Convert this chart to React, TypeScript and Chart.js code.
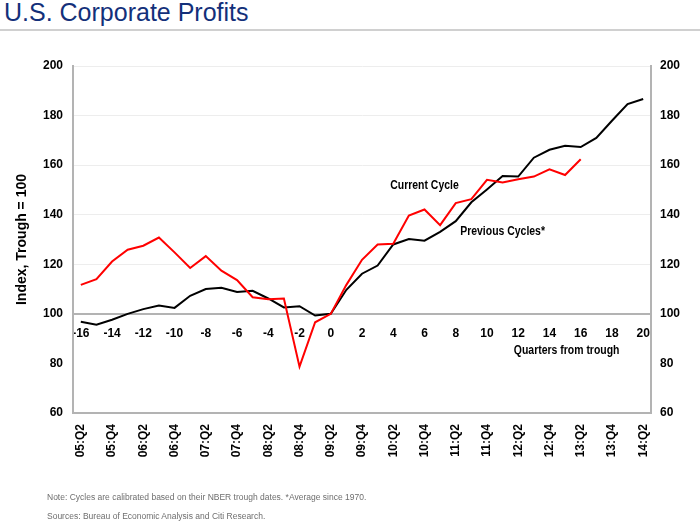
import React, { useEffect, useRef } from "react";
import { Chart, registerables } from "chart.js";

Chart.register(...registerables);

const quarterTicks = [-16, -14, -12, -10, -8, -6, -4, -2, 0, 2, 4, 6, 8, 10, 12, 14, 16, 18, 20];
const dateLabels = [
  "05:Q2", "05:Q4", "06:Q2", "06:Q4", "07:Q2", "07:Q4", "08:Q2", "08:Q4", "09:Q2", "09:Q4",
  "10:Q2", "10:Q4", "11:Q2", "11:Q4", "12:Q2", "12:Q4", "13:Q2", "13:Q4", "14:Q2",
];
const yTicks = [60, 80, 100, 120, 140, 160, 180, 200];

const previousQuarters = [
  -16, -15, -14, -13, -12, -11, -10, -9, -8, -7, -6, -5, -4, -3, -2, -1, 0,
  1, 2, 3, 4, 5, 6, 7, 8, 9, 10, 11, 12, 13, 14, 15, 16, 17, 18, 19, 20,
];
const previousCycles = [
  96.8, 95.6, 97.6, 100, 101.9, 103.4, 102.4, 107.3, 110, 110.5, 108.8, 109.3, 106.2, 102.6, 103.1, 99.3, 100,
  109.7, 116.2, 119.5, 128, 130.2, 129.5, 133.1, 137.4, 145, 150.2, 155.6, 155.4, 163, 166.2, 167.8, 167.3, 171, 177.9, 184.6, 186.7,
];
const currentQuarters = [
  -16, -15, -14, -13, -12, -11, -10, -9, -8, -7, -6, -5, -4, -3, -2, -1, 0,
  1, 2, 3, 4, 5, 6, 7, 8, 9, 10, 11, 12, 13, 14, 15, 16,
];
const currentCycle = [
  111.7, 114.0, 121.1, 125.9, 127.5, 130.8, 124.8, 118.5, 123.3, 117.4, 113.6, 106.7, 105.9, 106.2, 78.7, 96.6, 100,
  111.7, 121.8, 128, 128.3, 139.7, 142.1, 135.8, 144.7, 146.3, 154.1, 153, 154.3, 155.4, 158.3, 156, 162.4,
];

const textLabels = [
  { text: "Current Cycle", q: 6, v: 151.7 },
  { text: "Previous Cycles*", q: 11, v: 133.1 },
  { text: "Quarters from trough", q: 15.1, v: 85.2 },
];

const FONT = "'Liberation Sans', Arial, sans-serif";
const AXIS_GRAY = "#b3b3b3";

export default function App() {
  const ref = useRef<HTMLCanvasElement | null>(null);

  useEffect(() => {
    const canvas = ref.current;
    if (!canvas) return;
    const tickFont = { family: FONT, size: 12, weight: "bold" as const };

    const labelPlugin = {
      id: "textLabels",
      afterDatasetsDraw(chart: any) {
        const { ctx, scales } = chart;
        textLabels.forEach((l) => {
          ctx.save();
          ctx.font = `bold 12px ${FONT}`;
          ctx.fillStyle = "#000";
          ctx.textAlign = "center";
          ctx.textBaseline = "middle";
          ctx.translate(scales.x.getPixelForValue(l.q), scales.y.getPixelForValue(l.v));
          ctx.scale(0.87, 1);
          ctx.fillText(l.text, 0, 0);
          ctx.restore();
        });
      },
    };

    const chart = new Chart(canvas, {
      type: "line",
      data: {
        datasets: [
          {
            label: "Current Cycle",
            data: currentQuarters.map((q, i) => ({ x: q, y: currentCycle[i] })),
            borderColor: "#ff0000",
            borderWidth: 2,
            pointRadius: 0,
            tension: 0,
          },
          {
            label: "Previous Cycles*",
            data: previousQuarters.map((q, i) => ({ x: q, y: previousCycles[i] })),
            borderColor: "#000000",
            borderWidth: 2,
            pointRadius: 0,
            tension: 0,
          },
        ],
      },
      options: {
        animation: false,
        responsive: false,
        layout: { padding: { top: 66, left: 0, right: 0, bottom: 0 } },
        plugins: { legend: { display: false }, tooltip: { enabled: false } },
        scales: {
          x: {
            type: "linear",
            position: "bottom",
            min: -16.5,
            max: 20.5,
            grid: { display: false },
            border: { color: AXIS_GRAY, width: 2 },
            afterBuildTicks: (axis: any) => {
              axis.ticks = quarterTicks.map((v) => ({ value: v }));
            },
            afterFit: (axis: any) => {
              axis.height = 112;
            },
            ticks: {
              font: tickFont,
              color: "#000",
              minRotation: 90,
              maxRotation: 90,
              padding: 3,
              autoSkip: false,
              callback: (v: any) => {
                const i = quarterTicks.indexOf(Number(v));
                return i >= 0 ? dateLabels[i] : "";
              },
            },
          },
          x2: {
            type: "linear",
            position: { y: 100 } as any,
            min: -16.5,
            max: 20.5,
            grid: { display: false },
            border: { color: AXIS_GRAY, width: 2 },
            afterBuildTicks: (axis: any) => {
              axis.ticks = quarterTicks.map((v) => ({ value: v }));
            },
            ticks: {
              font: tickFont,
              color: "#000",
              maxRotation: 0,
              minRotation: 0,
              padding: 5,
              autoSkip: false,
              callback: (v: any) => String(v),
            },
          },
          y: {
            type: "linear",
            position: "left",
            min: 60,
            max: 200,
            afterBuildTicks: (axis: any) => {
              axis.ticks = yTicks.map((v) => ({ value: v }));
            },
            afterFit: (axis: any) => {
              axis.width = 73;
            },
            grid: {
              drawTicks: false,
              color: (c: any) => (c.tick && c.tick.value > 100 ? "#ededed" : "rgba(0,0,0,0)"),
              lineWidth: 1,
            },
            border: { color: AXIS_GRAY, width: 2 },
            ticks: { font: tickFont, color: "#000", padding: 10 },
            title: {
              display: true,
              text: "Index, Trough = 100",
              font: { family: FONT, size: 14, weight: "bold" as const },
              color: "#000",
              padding: { top: 14, bottom: 0 },
            },
          },
          y2: {
            type: "linear",
            position: "right",
            min: 60,
            max: 200,
            afterBuildTicks: (axis: any) => {
              axis.ticks = yTicks.map((v) => ({ value: v }));
            },
            afterFit: (axis: any) => {
              axis.width = 49;
            },
            grid: { display: false, drawTicks: false },
            border: { color: AXIS_GRAY, width: 2 },
            ticks: { font: tickFont, color: "#000", padding: 9 },
          },
        },
      },
      plugins: [labelPlugin],
    });
    return () => chart.destroy();
  }, []);

  return (
    <div style={{ position: "absolute", left: 0, top: 0, width: 700, height: 525, background: "#fff", fontFamily: FONT }}>
      <div
        style={{
          position: "absolute",
          left: 4,
          top: 0,
          fontSize: 25,
          lineHeight: "25px",
          color: "#13307a",
          whiteSpace: "nowrap",
        }}
      >
        U.S. Corporate Profits
      </div>
      <div style={{ position: "absolute", left: 0, top: 29, width: 700, height: 2, background: "#d0d0d0" }} />
      <canvas ref={ref} width={700} height={525} style={{ position: "absolute", left: 0, top: 0 }} />
      <div
        style={{
          position: "absolute",
          left: 47,
          top: 488,
          fontSize: 8.5,
          lineHeight: "19px",
          color: "#6e6e6e",
          whiteSpace: "nowrap",
        }}
      >
        Note: Cycles are calibrated based on their NBER trough dates. *Average since 1970.
        <br />
        Sources: Bureau of Economic Analysis and Citi Research.
      </div>
    </div>
  );
}
